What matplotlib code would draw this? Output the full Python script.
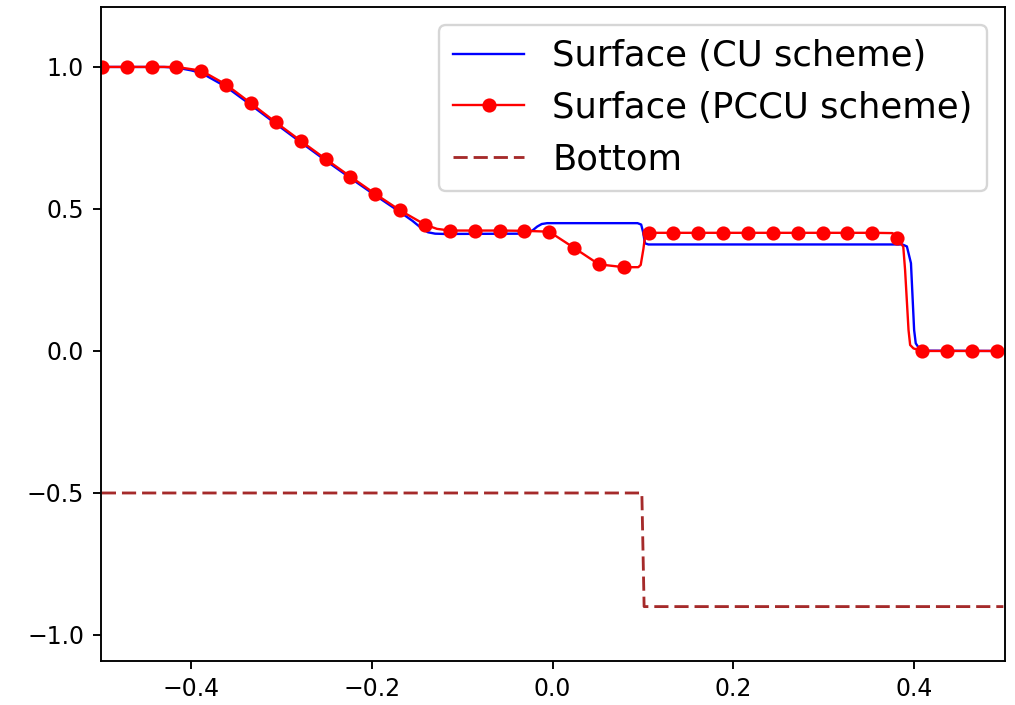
import matplotlib
matplotlib.use("Agg")
import matplotlib.pyplot as plt

# Surface elevation computed with the CU scheme (solid blue line)
cu_x = [-0.49875, -0.43, -0.415, -0.40, -0.38875, -0.36125, -0.33375, -0.30625,
        -0.27875, -0.25125, -0.22375, -0.19625, -0.16875, -0.155, -0.145, -0.138,
        -0.130, -0.12, -0.03, -0.022, -0.017, -0.012, -0.006, 0.094, 0.098,
        0.100, 0.1022, 0.106, 0.387, 0.392, 0.3965, 0.4000, 0.4018, 0.4055,
        0.411, 0.49875]
cu_y = [1.0, 1.0, 0.997, 0.988, 0.979, 0.930, 0.866, 0.800,
        0.735, 0.671, 0.609, 0.548, 0.489, 0.458, 0.432, 0.418,
        0.413, 0.412, 0.413, 0.425, 0.438, 0.447, 0.450, 0.450, 0.445,
        0.420, 0.379, 0.375, 0.375, 0.368, 0.309, 0.074, 0.027, 0.009,
        0.001, 0.0]

# Surface elevation computed with the PCCU scheme: sampled (marked) values
pccu_mark_x = [-0.49875, -0.47125, -0.44375, -0.41625, -0.38875, -0.36125,
               -0.33375, -0.30625, -0.27875, -0.25125, -0.22375, -0.19625,
               -0.16875, -0.14125, -0.11375, -0.08625, -0.05875, -0.03125,
               -0.00375, 0.02375, 0.05125, 0.07875, 0.10625, 0.13375,
               0.16125, 0.18875, 0.21625, 0.24375, 0.27125, 0.29875,
               0.32625, 0.35375, 0.38125, 0.40875, 0.43625, 0.46375, 0.49125]
pccu_mark_y = [1.0, 1.0, 1.0, 1.0, 0.987, 0.938,
               0.872, 0.805, 0.740, 0.676, 0.614, 0.553,
               0.495, 0.445, 0.424, 0.424, 0.424, 0.423,
               0.420, 0.363, 0.305, 0.295, 0.416, 0.416,
               0.416, 0.416, 0.416, 0.416, 0.416, 0.416,
               0.416, 0.416, 0.398, 0.0, 0.0, 0.0, 0.0]
# intermediate PCCU values between the marked samples
pccu_fill_x = [-0.128, 0.0948, 0.0975, 0.1005, 0.1025, 0.104,
               0.376, 0.3880, 0.3900, 0.3938, 0.3956, 0.3993]
pccu_fill_y = [0.430, 0.295, 0.303, 0.360, 0.410, 0.416,
               0.415, 0.367, 0.285, 0.074, 0.021, 0.009]

# Bottom topography (step)
bottom_x = [-0.49875, 0.09875, 0.10125, 0.49875]
bottom_y = [-0.5, -0.5, -0.9, -0.9]

# merge the PCCU samples and remember which ones carry a marker
pts = sorted([(x, y, True) for x, y in zip(pccu_mark_x, pccu_mark_y)] +
             [(x, y, False) for x, y in zip(pccu_fill_x, pccu_fill_y)])
pccu_x = [p[0] for p in pts]
pccu_y = [p[1] for p in pts]
marked = [i for i, p in enumerate(pts) if p[2]]

W, H, DPI = 1015, 705, 170
fig = plt.figure(figsize=(W / DPI, H / DPI), dpi=DPI)
left, right, top, bottom = 100.7, 1004.5, 7.3, 660.7
ax = fig.add_axes([left / W, (H - bottom) / H, (right - left) / W, (bottom - top) / H])

ax.plot(cu_x, cu_y, color="blue", lw=1.0, label="Surface (CU scheme)")
ax.plot(pccu_x, pccu_y, color="red", lw=1.0, marker="o", markersize=5,
        markevery=marked, label="Surface (PCCU scheme)")
ax.plot(bottom_x, bottom_y, color="brown", lw=1.2, linestyle=(0, (5, 2.1)),
        label="Bottom")

ax.set_xlim(-0.5, 0.5)
ax.set_ylim(-1.0905, 1.210)
ax.legend(loc="upper right", fontsize=15)

fig.savefig("out.png", dpi=DPI)
